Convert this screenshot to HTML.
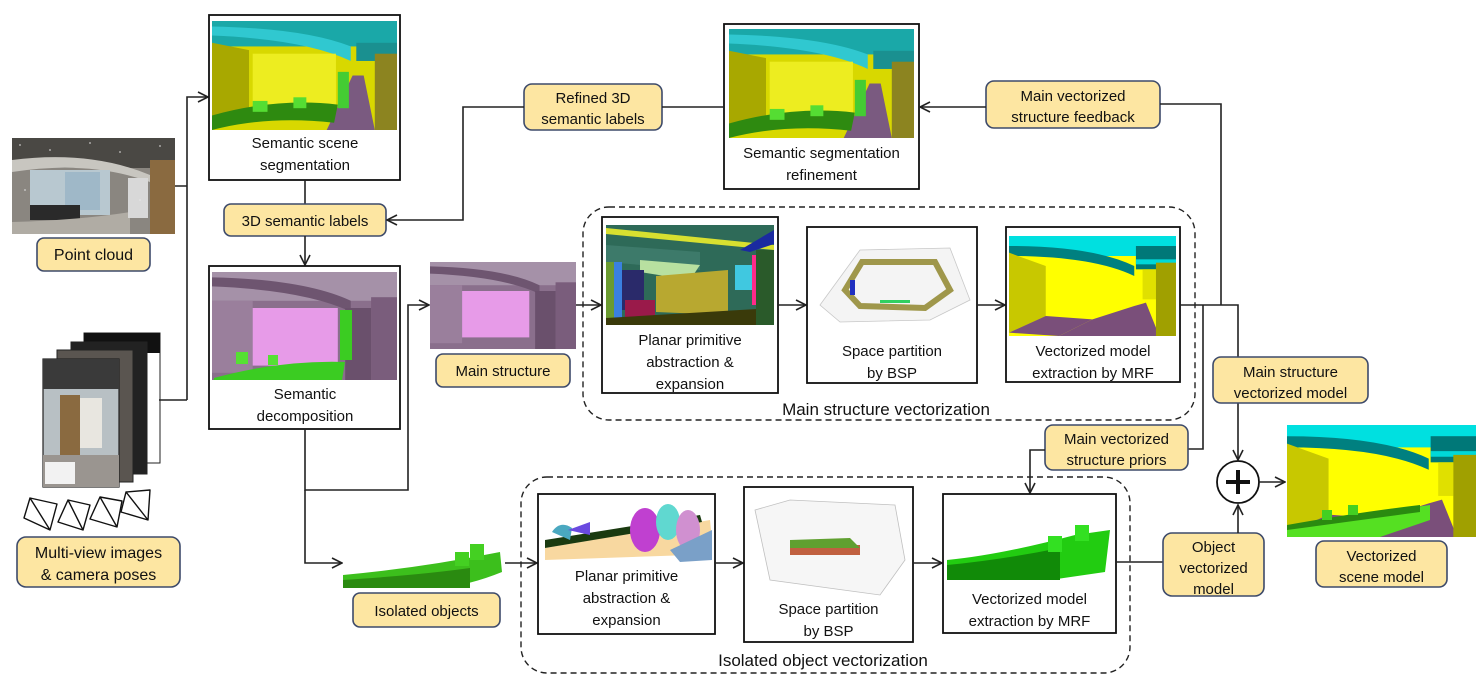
<!DOCTYPE html>
<html><head><meta charset="utf-8"><style>
html,body{margin:0;padding:0;background:#fff;}
svg{display:block;}
text{font-family:"Liberation Sans",sans-serif;font-size:15px;fill:#111;text-anchor:middle;}
.lab{fill:#fde6a2;stroke:#3d4a6a;stroke-width:1.6;}
.box{fill:#fff;stroke:#111;stroke-width:1.8;}
.ln{fill:none;stroke:#222;stroke-width:1.6;}
.dash{fill:none;stroke:#222;stroke-width:1.4;stroke-dasharray:6 4;}
</style></head><body>
<svg width="1484" height="686" viewBox="0 0 1484 686" xmlns="http://www.w3.org/2000/svg">
<defs>
<marker id="ar" viewBox="0 0 12 12" refX="11" refY="6" markerWidth="12" markerHeight="12" markerUnits="userSpaceOnUse" orient="auto">
<path d="M1,1 L11,6 L1,11" fill="none" stroke="#222" stroke-width="1.6"/></marker>
<symbol id="seg" viewBox="0 0 100 60" preserveAspectRatio="none">
<rect width="100" height="60" fill="#d8d800"/>
<rect width="100" height="14" fill="#1aa8a8"/>
<path d="M0,8 Q50,10 75,22 L75,14 Q50,4 0,3Z" fill="#30c8d0"/>
<rect x="78" y="12" width="22" height="10" fill="#1a9090"/>
<path d="M0,12 L20,16 L20,52 L0,58Z" fill="#a8a800"/>
<rect x="22" y="18" width="45" height="28" fill="#eded20"/>
<path d="M62,60 L76,30 L82,30 L88,60Z" fill="#7a5a80"/>
<path d="M0,52 Q35,42 68,46 L66,56 Q30,52 0,60Z" fill="#2e8a10"/>
<rect x="22" y="44" width="8" height="6" fill="#55dd33"/><rect x="44" y="42" width="7" height="6" fill="#55dd33"/>
<rect x="68" y="28" width="6" height="20" fill="#44cc33"/>
<rect x="88" y="18" width="12" height="42" fill="#8c8420"/>
</symbol>
<symbol id="vec" viewBox="0 0 100 60" preserveAspectRatio="none">
<rect width="100" height="60" fill="#ffff00"/>
<rect width="100" height="12" fill="#00e0e0"/>
<path d="M0,12 Q50,12 75,24 L75,18 Q50,6 0,6Z" fill="#008080"/>
<rect x="76" y="6" width="24" height="14" fill="#007878"/>
<rect x="76" y="14" width="24" height="3" fill="#00d8d8"/>
<path d="M0,10 L22,18 L22,48 L0,58Z" fill="#c8c800"/>
<path d="M30,60 L50,50 L75,42 L82,40 L90,60Z" fill="#7a4f7a"/>
<path d="M0,58 L22,48 L50,50 L30,60Z" fill="#7a4f7a"/>
<rect x="80" y="20" width="8" height="18" fill="#e0e000"/>
<rect x="88" y="16" width="12" height="44" fill="#a0a000"/>
</symbol>
<symbol id="pink" viewBox="0 0 100 60" preserveAspectRatio="none">
<rect width="100" height="60" fill="#8a6f8c"/>
<rect width="100" height="16" fill="#a591a8"/>
<path d="M0,8 Q50,10 75,22 L75,16 Q50,4 0,3Z" fill="#6e5570"/>
<rect x="0" y="16" width="22" height="40" fill="#9a7f9c"/>
<rect x="22" y="20" width="46" height="32" fill="#e79be8"/>
<rect x="72" y="20" width="14" height="40" fill="#6a506c"/>
<rect x="86" y="14" width="14" height="46" fill="#7a5d7c"/>
</symbol>
</defs>

<!-- Point cloud -->
<rect x="12" y="138" width="163" height="96" fill="#8a8680"/>
<rect x="12" y="138" width="163" height="30" fill="#4a4844"/>
<path d="M12,160 Q90,150 150,175 L150,182 Q90,160 12,172Z" fill="#c8c6c0"/>
<rect x="30" y="170" width="80" height="45" fill="#b8c8d0"/>
<rect x="65" y="172" width="35" height="38" fill="#9fb8c8"/>
<rect x="30" y="205" width="50" height="15" fill="#2a2a2a"/>
<path d="M12,222 Q80,220 130,212 L130,234 L12,234Z" fill="#b0aca4"/>
<rect x="150" y="160" width="25" height="74" fill="#8a6a40"/>
<rect x="128" y="178" width="20" height="40" fill="#d8d8d8"/>
<g fill="#e8e8e8" opacity="0.6"><circle cx="20" cy="145" r="1"/><circle cx="50" cy="150" r="1"/><circle cx="90" cy="143" r="1"/><circle cx="120" cy="152" r="1"/><circle cx="160" cy="146" r="1"/><circle cx="25" cy="190" r="1"/><circle cx="140" cy="200" r="1"/></g>
<rect class="lab" x="37" y="238" width="113" height="33" rx="7"/>
<text x="93.5" y="260" style="font-size:16px">Point cloud</text>

<!-- Multi-view images -->
<rect x="84" y="333" width="76" height="130" fill="#fff" stroke="#222" stroke-width="1"/>
<rect x="84" y="333" width="76" height="20" fill="#111"/>
<rect x="71" y="342" width="76" height="132" fill="#222" stroke="#222" stroke-width="1"/>
<rect x="57" y="350" width="76" height="132" fill="#5a5550" stroke="#222" stroke-width="1"/>
<rect x="43" y="359" width="76" height="128" fill="#b8c0c4" stroke="#222" stroke-width="1.2"/>
<rect x="43" y="359" width="76" height="30" fill="#3a3a3a"/>
<rect x="60" y="395" width="20" height="60" fill="#8a6a40"/>
<rect x="80" y="398" width="22" height="50" fill="#e8e6e0"/>
<rect x="43" y="455" width="76" height="32" fill="#9a9590"/>
<rect x="45" y="462" width="30" height="22" fill="#f2f2f2"/>
<g fill="none" stroke="#111" stroke-width="1.4" stroke-linejoin="round">
<path d="M30,498 L57,504 L50,530 L24,518 Z M30,498 L50,530 M57,504 L50,530"/>
<path d="M68,500 L90,505 L83,530 L58,522 Z M68,500 L83,530"/>
<path d="M100,497 L122,501 L117,527 L90,519 Z M100,497 L117,527"/>
<path d="M126,492 L150,490 L148,520 L121,512 Z M126,492 L148,520"/>
</g>
<rect class="lab" x="17" y="537" width="163" height="50" rx="9"/>
<text x="98.5" y="558" style="font-size:16px">Multi-view images</text>
<text x="98.5" y="580" style="font-size:16px">&amp; camera poses</text>

<!-- left connector -->
<path class="ln" d="M175,186 H187 M187,400 V97 H208" marker-end="url(#ar)"/>
<path class="ln" d="M159,400 H187"/>

<!-- Semantic scene segmentation -->
<rect class="box" x="209" y="15" width="191" height="165"/>
<use href="#seg" x="212" y="21" width="185" height="109"/>
<text x="305" y="148">Semantic scene</text>
<text x="305" y="170">segmentation</text>
<path class="ln" d="M305,180 V204"/>
<rect class="lab" x="224" y="204" width="162" height="32" rx="7"/>
<text x="305" y="226">3D semantic labels</text>
<path class="ln" d="M305,236 V265" marker-end="url(#ar)"/>

<!-- Semantic decomposition -->
<rect class="box" x="209" y="266" width="191" height="163"/>
<use href="#pink" x="212" y="272" width="185" height="108"/>
<path d="M214,378 Q280,360 345,362 L342,380 L214,380Z" fill="#3bcc22"/>
<rect x="236" y="352" width="12" height="12" fill="#55e033"/><rect x="268" y="355" width="10" height="10" fill="#55e033"/>
<rect x="340" y="310" width="12" height="50" fill="#3bcc22"/>
<text x="305" y="399">Semantic</text>
<text x="305" y="421">decomposition</text>
<path class="ln" d="M305,429 V490 H408 V305 H429" marker-end="url(#ar)"/>
<path class="ln" d="M305,490 V563 H342" marker-end="url(#ar)"/>

<!-- Main structure -->
<use href="#pink" x="430" y="262" width="146" height="87"/>
<rect class="lab" x="436" y="354" width="134" height="33" rx="7"/>
<text x="503" y="376">Main structure</text>
<path class="ln" d="M576,305 H601" marker-end="url(#ar)"/>

<!-- Refinement -->
<rect class="box" x="724" y="24" width="195" height="165"/>
<use href="#seg" x="729" y="29" width="185" height="109"/>
<text x="821.5" y="158">Semantic segmentation</text>
<text x="821.5" y="180">refinement</text>
<rect class="lab" x="524" y="84" width="138" height="46" rx="8"/>
<text x="593" y="103">Refined 3D</text>
<text x="593" y="124">semantic labels</text>
<path class="ln" d="M724,107 H662"/>
<path class="ln" d="M524,107 H463 V220 H387" marker-end="url(#ar)"/>

<!-- feedback -->
<rect class="lab" x="986" y="81" width="174" height="47" rx="8"/>
<text x="1073" y="101">Main vectorized</text>
<text x="1073" y="122">structure feedback</text>
<path class="ln" d="M986,107 H920" marker-end="url(#ar)"/>
<path class="ln" d="M1160,104 H1221 V305"/>

<!-- Main structure vectorization -->
<rect class="dash" x="583" y="207" width="612" height="213" rx="26"/>
<text x="886" y="415" style="font-size:17px">Main structure vectorization</text>
<rect class="box" x="602" y="217" width="176" height="176"/>
<rect x="606" y="225" width="168" height="100" fill="#2e6a58"/>
<path d="M606,228 L774,245 L774,250 L606,234Z" fill="#d8e030"/>
<path d="M606,245 L700,252 L700,270 L606,262Z" fill="#3d7a6a"/>
<path d="M640,260 L700,265 L690,280 L640,272Z" fill="#b8e0a0"/>
<rect x="606" y="262" width="12" height="63" fill="#6a9a30"/>
<rect x="614" y="262" width="8" height="60" fill="#3a80e0"/>
<rect x="622" y="270" width="22" height="40" fill="#2a2a6a"/>
<rect x="625" y="300" width="30" height="18" fill="#9a1a4a"/>
<path d="M656,276 L728,270 L728,315 L656,312Z" fill="#b8a830"/>
<path d="M606,318 L774,308 L774,325 L606,325Z" fill="#3a3a0a"/>
<rect x="735" y="265" width="20" height="25" fill="#40c8e0"/>
<rect x="752" y="255" width="4" height="50" fill="#ff2a8a"/>
<rect x="756" y="250" width="18" height="75" fill="#2a5a2a"/>
<path d="M740,250 L774,230 L774,244 L750,252Z" fill="#1a2aa0"/>
<text x="690" y="345">Planar primitive</text>
<text x="690" y="367">abstraction &amp;</text>
<text x="690" y="389">expansion</text>
<path class="ln" d="M778,305 H806" marker-end="url(#ar)"/>

<rect class="box" x="807" y="227" width="170" height="156"/>
<path d="M820,305 L860,250 L950,248 L970,300 L930,320 L840,322Z" fill="#f4f4f4" stroke="#c8c8c8" stroke-width="0.8"/>
<path d="M845,290 L862,262 L935,262 L950,290 L925,308 L860,306Z" fill="none" stroke="#8a8020" stroke-width="6" opacity="0.8"/>
<rect x="850" y="280" width="5" height="15" fill="#2030c0"/>
<rect x="880" y="300" width="30" height="3" fill="#30d060"/>
<text x="892" y="356">Space partition</text>
<text x="892" y="378">by BSP</text>
<path class="ln" d="M977,305 H1005" marker-end="url(#ar)"/>

<rect class="box" x="1006" y="227" width="174" height="155"/>
<use href="#vec" x="1009" y="236" width="167" height="100"/>
<text x="1093" y="356">Vectorized model</text>
<text x="1093" y="378">extraction by MRF</text>
<path class="ln" d="M1180,305 H1238 V460" marker-end="url(#ar)"/>
<path class="ln" d="M1203,305 V449 H1188"/>

<!-- main structure vectorized model label -->
<rect class="lab" x="1213" y="357" width="155" height="46" rx="8"/>
<text x="1290.5" y="377">Main structure</text>
<text x="1290.5" y="398">vectorized model</text>

<!-- priors -->
<rect class="lab" x="1045" y="425" width="143" height="45" rx="8"/>
<text x="1116.5" y="444">Main vectorized</text>
<text x="1116.5" y="465">structure priors</text>
<path class="ln" d="M1045,450 H1030 V493" marker-end="url(#ar)"/>

<!-- Isolated objects -->
<path d="M343,575 Q420,568 500,552 L502,572 Q470,585 440,588 L343,588Z" fill="#3cbf1c"/>
<path d="M343,580 Q420,575 470,568 L470,588 L343,588Z" fill="#2a8a10"/>
<rect x="455" y="552" width="14" height="14" fill="#44d022"/><rect x="470" y="544" width="14" height="16" fill="#44d022"/>
<rect class="lab" x="353" y="593" width="147" height="34" rx="7"/>
<text x="426.5" y="616">Isolated objects</text>
<path class="ln" d="M505,563 H537" marker-end="url(#ar)"/>

<!-- Isolated object vectorization -->
<rect class="dash" x="521" y="477" width="609" height="196" rx="26"/>
<text x="823" y="666" style="font-size:17px">Isolated object vectorization</text>
<rect class="box" x="538" y="494" width="177" height="140"/>
<path d="M545,548 L710,520 L712,540 L690,555 L545,560Z" fill="#f8d8a0"/>
<path d="M545,540 L700,515 L702,522 L545,548Z" fill="#1a3a10"/>
<path d="M552,532 Q560,520 572,528 L570,540Z" fill="#4aa8c0"/>
<path d="M568,530 L590,522 L590,535Z" fill="#6a4ae0"/>
<ellipse cx="645" cy="530" rx="15" ry="22" fill="#c040d0"/>
<ellipse cx="668" cy="522" rx="12" ry="18" fill="#60d8d0"/>
<ellipse cx="688" cy="530" rx="12" ry="20" fill="#d090d0"/>
<path d="M670,550 L712,530 L712,560 L680,562Z" fill="#7aa0c8"/>
<text x="626.5" y="581">Planar primitive</text>
<text x="626.5" y="603">abstraction &amp;</text>
<text x="626.5" y="625">expansion</text>
<path class="ln" d="M715,563 H743" marker-end="url(#ar)"/>

<rect class="box" x="744" y="487" width="169" height="155"/>
<path d="M755,510 L790,500 L895,505 L905,560 L880,595 L770,580Z" fill="#f6f6f6" stroke="#c0c0c0" stroke-width="0.8"/>
<path d="M790,545 L860,545 L860,555 L790,555Z" fill="#c06040"/>
<path d="M790,540 L850,538 L860,548 L790,548Z" fill="#60a030"/>
<text x="828.5" y="614">Space partition</text>
<text x="828.5" y="636">by BSP</text>
<path class="ln" d="M913,563 H942" marker-end="url(#ar)"/>

<rect class="box" x="943" y="494" width="173" height="139"/>
<path d="M947,560 Q1000,555 1075,535 L1110,530 L1105,572 L1050,580 L947,580Z" fill="#22cc11"/>
<path d="M947,565 Q1000,560 1060,548 L1060,580 L947,580Z" fill="#118a08"/>
<rect x="1048" y="536" width="14" height="16" fill="#33e022"/><rect x="1075" y="525" width="14" height="16" fill="#33e022"/>
<text x="1029.5" y="604">Vectorized model</text>
<text x="1029.5" y="626">extraction by MRF</text>
<path class="ln" d="M1116,562 H1163"/>

<!-- Object vectorized model -->
<rect class="lab" x="1163" y="533" width="101" height="63" rx="9"/>
<text x="1213.5" y="552">Object</text>
<text x="1213.5" y="573">vectorized</text>
<text x="1213.5" y="594">model</text>
<path class="ln" d="M1238,533 V505" marker-end="url(#ar)"/>

<!-- plus -->
<circle cx="1238" cy="482" r="21" fill="#fff" stroke="#111" stroke-width="1.8"/>
<path d="M1226,482 H1250 M1238,470 V494" stroke="#111" stroke-width="4"/>
<path class="ln" d="M1259,482 H1285" marker-end="url(#ar)"/>

<!-- Vectorized scene model -->
<use href="#vec" x="1287" y="425" width="189" height="112"/>
<path d="M1287,530 Q1360,515 1430,505 L1430,520 L1380,537 L1287,537Z" fill="#55e022"/>
<path d="M1287,525 Q1360,512 1420,505 L1420,512 Q1360,520 1287,530Z" fill="#2a8a10"/>
<rect x="1322" y="510" width="10" height="10" fill="#44d022"/><rect x="1348" y="505" width="10" height="10" fill="#44d022"/>
<rect class="lab" x="1316" y="541" width="131" height="46" rx="8"/>
<text x="1381.5" y="561">Vectorized</text>
<text x="1381.5" y="582">scene model</text>
</svg>
</body></html>
